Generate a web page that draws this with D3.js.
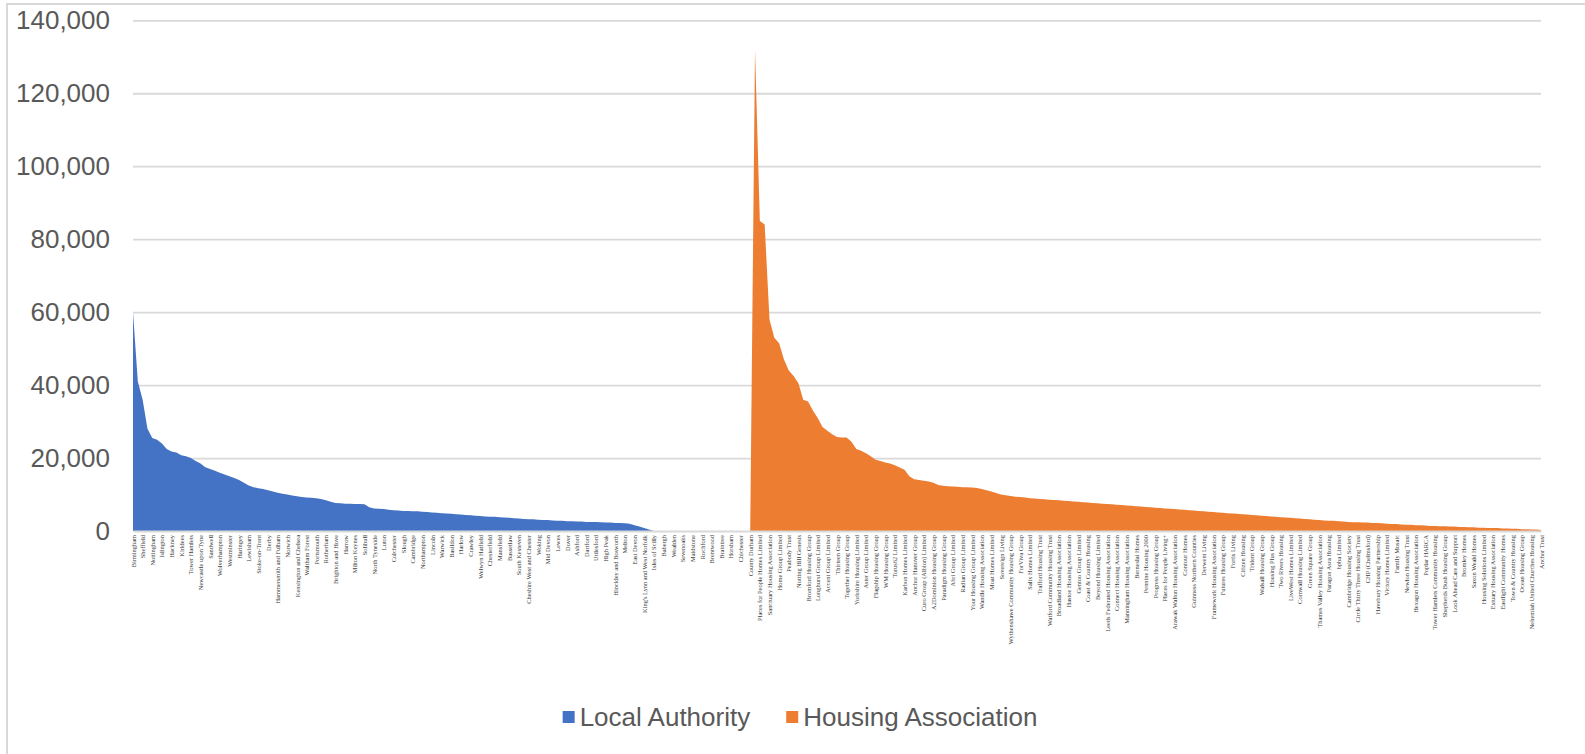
<!DOCTYPE html>
<html>
<head>
<meta charset="utf-8">
<script src="https://cdn.jsdelivr.net/npm/d3@7"></script>
<style>
  body { margin: 0; background: #fff; }
  svg { display: block; }
</style>
</head>
<body>
<svg width="1585" height="754"></svg>
<script>
// local authority landlords, biggest first (the last ones hold no stock)
const laNames = [
    "Birmingham", "Leeds", "Sheffield", "Southwark", "Nottingham", "Camden", "Islington", "Bristol", "Hackney", "Lambeth",
    "Kirklees", "Leicester", "Tower Hamlets", "Wandsworth", "Newcastle upon Tyne", "Kingston upon Hull", "Sandwell", "Barnet", "Wolverhampton", "Brent",
    "Westminster", "Enfield", "Haringey", "Croydon", "Lewisham", "Greenwich", "Stoke-on-Trent", "Dudley", "Derby", "Ealing",
    "Hammersmith and Fulham", "Hounslow", "Norwich", "Barking and Dagenham", "Kensington and Chelsea", "Southampton", "Waltham Forest", "Salford", "Portsmouth", "Doncaster",
    "Rotherham", "Barnsley", "Brighton and Hove", "Hillingdon", "Harrow", "Redbridge", "Milton Keynes", "Stockport", "Solihull", "Gateshead",
    "North Tyneside", "South Tyneside", "Luton", "Ipswich", "Colchester", "Reading", "Slough", "Oxford", "Cambridge", "Swindon",
    "Northampton", "Exeter", "Lincoln", "York", "Warwick", "Thurrock", "Basildon", "Southend-on-Sea", "Harlow", "Stevenage",
    "Crawley", "Dacorum", "Welwyn Hatfield", "Epping Forest", "Chesterfield", "Bolsover", "Mansfield", "Ashfield", "Bassetlaw", "North Kesteven",
    "South Kesteven", "Newark and Sherwood", "Cheshire West and Chester", "Guildford", "Woking", "Waverley", "Mid Devon", "Eastbourne", "Lewes", "Canterbury",
    "Dover", "Thanet", "Ashford", "Gravesham", "Dartford", "Tendring", "Uttlesford", "Broxtowe", "High Peak", "North West Leicestershire",
    "Hinckley and Bosworth", "Charnwood", "Melton", "Oadby and Wigston", "East Devon", "South Holland", "King's Lynn and West Norfolk", "Cheltenham",
    "Isles of Scilly", "Mid Suffolk", "Babergh", "Wyre Forest", "Wealden", "Tonbridge and Malling", "Sevenoaks", "Tunbridge Wells", "Maidstone", "Swale",
    "Rochford", "Castle Point", "Brentwood", "Maldon", "Braintree", "Rother", "Horsham", "Mid Sussex", "Chichester", "Test Valley",
    "County Durham"
];

const laValues = [
    60000, 41000, 36000, 28000, 25500, 25000, 24000, 22500, 21800, 21500,
    20800, 20500, 20000, 19200, 18500, 17500, 17000, 16500, 16000, 15500,
    15000, 14500, 14000, 13200, 12500, 12000, 11700, 11500, 11200, 10800,
    10500, 10200, 10000, 9700, 9500, 9300, 9200, 9100, 9000, 8800,
    8400, 8000, 7700, 7600, 7500, 7500, 7400, 7400, 7300, 6500,
    6200, 6100, 6000, 5800, 5700, 5600, 5500, 5500, 5400, 5400,
    5300, 5200, 5100, 5000, 4900, 4800, 4700, 4600, 4500, 4400,
    4300, 4200, 4100, 4000, 3900, 3900, 3800, 3700, 3600, 3500,
    3400, 3300, 3200, 3200, 3100, 3000, 3000, 2900, 2800, 2800,
    2700, 2700, 2600, 2600, 2500, 2500, 2500, 2400, 2300, 2300,
    2200, 2200, 2100, 2000, 1600, 1200, 800, 400,
    0, 0, 0, 0, 0, 0, 0, 0, 0, 0,
    0, 0, 0, 0, 0, 0, 0, 0, 0, 0,
    0
];

// housing associations, biggest first
const haNames = [
    "Clarion Housing Group Limited", "Places for People Homes Limited", "London & Quadrant Housing Trust", "Sanctuary Housing Association", "The Guinness Partnership Limited", "Home Group Limited", "Metropolitan Thames Valley Housing", "Peabody Trust", "Orbit Group Limited", "Notting Hill Genesis",
    "Riverside Group Limited", "Bromford Housing Group", "Optivo", "Longhurst Group Limited", "Hyde Housing Association", "Accent Group Limited", "Livin Housing Limited", "Thirteen Group", "Midland Heart Limited", "Together Housing Group",
    "Stonewater Limited", "Yorkshire Housing Limited", "Incommunities Group Limited", "Aster Group Limited", "Sovereign Housing Association", "Flagship Housing Group", "Platform Housing Group", "WM Housing Group", "Jigsaw Homes Group", "Torus62 Limited",
    "Onward Homes Limited", "Karbon Homes Limited", "Bernicia Group", "Anchor Hanover Group", "Housing 21", "Curo Group (Albion) Limited", "Southern Housing Group", "A2Dominion Housing Group", "Network Homes Limited", "Paradigm Housing Group",
    "Catalyst Housing Limited", "Abri Group Limited", "Vivid Housing Limited", "Radian Group Limited", "Aspire Housing Limited", "Your Housing Group Limited", "Plus Dane Group", "Wandle Housing Association", "Settle Group", "Moat Homes Limited",
    "Raven Housing Trust", "Sovereign Living", "Magenta Living", "Wythenshawe Community Housing Group", "Regenda Limited", "ForViva Group", "Great Places Housing Group", "Salix Homes Limited", "Bolton at Home Limited", "Trafford Housing Trust",
    "Stockport Homes", "Watford Community Housing Trust", "Saffron Housing Trust", "Broadland Housing Association", "Cross Keys Homes Limited", "Hastoe Housing Association", "Guinness Care and Support", "Gentoo Group Limited", "Believe Housing", "Coast & Country Housing",
    "Tees Valley Housing", "Beyond Housing Limited", "Home Housing Association", "Leeds Federated Housing Association", "Unity Homes and Enterprise", "Connect Housing Association", "Chevin Housing Association", "Manningham Housing Association", "South Yorkshire Housing Association", "Berneslai Homes",
    "St Leger Homes of Doncaster", "Pennine Housing 2000", "Calico Homes Limited", "Progress Housing Group", "Community Gateway Association", "Places for People Living+", "Johnnie Johnson Housing Trust", "Arawak Walton Housing Association", "Irwell Valley Housing Association", "Contour Homes",
    "Equity Housing Group", "Guinness Northern Counties", "Acis Group Limited", "Derwent Living", "Nottingham Community Housing Association", "Framework Housing Association", "EMH Homes", "Futures Housing Group", "Waterloo Housing Group", "Fortis Living",
    "Rooftop Housing Group", "Citizen Housing", "Bournville Village Trust", "Trident Group", "Accord Housing Association", "Walsall Housing Group", "Black Country Housing Group", "Housing Plus Group", "Severn Vale Housing Society", "Two Rivers Housing",
    "Merlin Housing Society", "LiveWest Homes Limited", "Westward Housing Group", "Cornwall Housing Limited", "Yarlington Housing Group", "Green Square Group", "Soha Housing Limited", "Thames Valley Housing Association", "Hightown Housing Association", "Paragon Asra Housing",
    "Grand Union Housing Group", "bpha Limited", "Luminus Group", "Cambridge Housing Society", "Sanctuary Affordable Housing", "Circle Thirty Three Housing Trust", "Greenfields Community Housing", "CHP (Chelmsford)", "Colne Housing Society", "Havebury Housing Partnership",
    "Orwell Housing Association", "Victory Homes Limited", "Origin Housing Limited", "Family Mosaic", "Islington & Shoreditch Housing", "Newlon Housing Trust", "Phoenix Community Housing", "Hexagon Housing Association", "Gallions Housing Association", "Poplar HARCA",
    "Eastend Homes Limited", "Tower Hamlets Community Housing", "One Housing Group", "Shepherds Bush Housing Group", "Octavia Housing", "Look Ahead Care and Support", "Women's Pioneer Housing", "Bromley Homes", "Downland Affordable Homes", "Saxon Weald Homes",
    "Hanover Housing Association", "Housing Solutions Limited", "Swan Housing Association", "Estuary Housing Association", "Chelmer Housing Partnership", "Eastlight Community Homes", "Golding Homes Limited", "Town & Country Housing", "Southern Housing Trust", "Ocean Housing Group",
    "Devon & Cornwall Housing", "Nehemiah United Churches Housing", "Sadeh Lok Housing Group", "Anchor Trust"
];

const haValues = [
    132000, 85000, 84000, 58000, 53000, 51500, 47000, 44000, 42500, 40500,
    36000, 35500, 33000, 31000, 28500, 27500, 26500, 25800, 25600, 25600,
    24500, 22500, 22000, 21300, 20500, 19500, 19200, 18800, 18500, 18000,
    17400, 16800, 15000, 14200, 14000, 13800, 13600, 13200, 12600, 12400,
    12300, 12200, 12100, 12000, 12000, 11900, 11800, 11500, 11200, 10800,
    10400, 10000, 9800, 9600, 9400, 9300, 9200, 9000, 8900, 8800,
    8700, 8600, 8500, 8400, 8300, 8200, 8100, 8000, 7900, 7800,
    7700, 7600, 7500, 7400, 7300, 7200, 7100, 7000, 6900, 6800,
    6700, 6600, 6500, 6400, 6300, 6200, 6100, 6000, 5900, 5800,
    5700, 5600, 5500, 5400, 5300, 5200, 5100, 5000, 4900, 4800,
    4700, 4600, 4500, 4400, 4300, 4200, 4100, 4000, 3900, 3800,
    3700, 3600, 3500, 3400, 3300, 3200, 3100, 3000, 2900, 2800,
    2800, 2700, 2600, 2500, 2400, 2400, 2300, 2300, 2200, 2200,
    2100, 2000, 1900, 1900, 1800, 1700, 1700, 1600, 1600, 1500,
    1400, 1400, 1300, 1300, 1200, 1200, 1100, 1100, 1000, 1000,
    900, 900, 800, 800, 800, 700, 700, 600, 600, 500,
    500, 400, 400, 300
];

const yTicks = [0, 20000, 40000, 60000, 80000, 100000, 120000, 140000];
const seriesNames = ["Local Authority", "Housing Association"];
const seriesColors = ["#4472c4", "#ed7d31"];

// one shared category axis: LA landlords then housing associations
const categories = laNames.concat(haNames);
const laSeries = laValues.concat(haValues.map(() => 0));
const haSeries = laValues.map(() => 0).concat(haValues);

const svg = d3.select("svg");
const width = +svg.attr("width");
const height = +svg.attr("height");

const x = d3.scaleLinear()
    .domain([0, categories.length - 1])
    .range([133, 1541]);

const y = d3.scaleLinear()
    .domain([0, 140000])
    .range([531, 20.3]);

// chart frame (only left and top edges are in view)
svg.append("path")
    .attr("d", `M7,${height} V4 H${width}`)
    .attr("fill", "none")
    .attr("stroke", "#d9d9d9")
    .attr("stroke-width", 2);

// gridlines
const grid = svg.append("g")
    .attr("transform", `translate(${x.range()[0]},0)`)
    .call(d3.axisLeft(y)
        .tickValues(yTicks.slice(1))
        .tickSize(-(x.range()[1] - x.range()[0]))
        .tickFormat(""));
grid.select(".domain").remove();
grid.selectAll("line")
    .attr("stroke", "#d9d9d9")
    .attr("stroke-width", 1.8);

// y labels
const yAxis = svg.append("g")
    .attr("transform", `translate(${x.range()[0]},0)`)
    .call(d3.axisLeft(y)
        .tickValues(yTicks)
        .tickSize(0)
        .tickPadding(23)
        .tickFormat(d3.format(",")));
yAxis.select(".domain").remove();
yAxis.selectAll("text")
    .attr("fill", "#595959")
    .style("font-family", "'Liberation Sans', Arial, sans-serif")
    .style("font-size", "26px");

// areas
const area = d3.area()
    .x((d, i) => x(i))
    .y0(y(0))
    .y1(d => y(d));

svg.append("g")
    .selectAll("path")
    .data([laSeries, haSeries])
    .enter()
    .append("path")
    .attr("d", area)
    .attr("fill", (d, i) => seriesColors[i]);

// category axis, every other name shown
const xAxis = svg.append("g")
    .attr("transform", `translate(0,${y(0)})`)
    .call(d3.axisBottom(x)
        .tickValues(d3.range(0, categories.length, 2))
        .tickFormat(i => categories[i])
        .tickSize(0)
        .tickSizeOuter(0));
xAxis.select(".domain")
    .attr("stroke", "#d9d9d9")
    .attr("stroke-width", 1.8);
xAxis.selectAll("text")
    .attr("x", -4)
    .attr("y", 0)
    .attr("dy", "0.32em")
    .attr("transform", "rotate(-90)")
    .style("text-anchor", "end")
    .attr("fill", "#404040")
    .style("font-family", "'Liberation Serif', 'Times New Roman', serif")
    .style("font-size", "6.4px");

// legend
const legend = svg.append("g");
let lx = 0;
seriesNames.forEach((name, i) => {
    const item = legend.append("g").attr("transform", `translate(${lx},0)`);
    item.append("rect")
        .attr("x", 0)
        .attr("y", -6)
        .attr("width", 12)
        .attr("height", 12)
        .attr("fill", seriesColors[i]);
    const t = item.append("text")
        .attr("x", 17)
        .attr("dy", "0.35em")
        .attr("fill", "#595959")
        .style("font-family", "'Liberation Sans', Arial, sans-serif")
        .style("font-size", "26px")
        .text(name);
    lx += 17 + t.node().getComputedTextLength() + 36;
});
const legendWidth = lx - 36;
legend.attr("transform", `translate(${800 - legendWidth / 2},717)`);
</script>
</body>
</html>
